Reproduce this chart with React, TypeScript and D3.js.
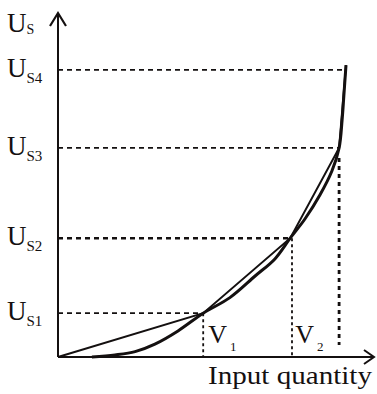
import React from "react";
import * as d3 from "d3";

// levels on the output axis (U_S1..U_S4)
const levelNames = ["S1", "S2", "S3", "S4"];
const levelValues = [14.6, 39.6, 69.7, 95.7];
// breakpoints of the piecewise-linear approximation (input, output)
const chordX = [0, 48.4, 77.4, 93.7, 96];
const chordY = [0, 14.6, 39.6, 69.7, 97.3];
// the actual (smooth) transfer curve
const curveX = [11.3, 19, 25.7, 32.3, 40, 48.4, 57.3, 65.7, 72.3, 77.4, 82.3, 87.3, 91.3, 93.7, 94.7, 95.3, 96];
const curveY = [0, 0.7, 1.8, 4.3, 8.7, 14.6, 19.8, 27, 32.7, 39.6, 46, 54, 62, 69.7, 79, 87.3, 97.3];
const segmentNames = ["1", "2"];

const W = 377;
const H = 394;
const font = "'Liberation Serif', 'Times New Roman', serif";
const ink = "#141010";

export default function App() {
  const x = d3.scaleLinear().domain([0, 100]).range([58, 358]);
  const y = d3.scaleLinear().domain([0, 100]).range([357, 57]);

  const chord = d3
    .line<number>()
    .x((d) => x(d))
    .y((_, i) => y(chordY[i]));
  const curve = d3
    .line<number>()
    .x((d) => x(d))
    .y((_, i) => y(curveY[i]))
    .curve(d3.curveCatmullRom.alpha(0.5));

  // horizontal dashed guides end where the level meets the breakpoint
  const guideEnd = [chordX[1], chordX[2], chordX[3], chordX[4]];
  const hWidths = [1.8, 2.6, 1.8, 1.8];
  const vWidths = [1.8, 1.8, 2.8];
  const vTops = [chordY[1], chordY[2], chordY[3]];
  const vXs = [chordX[1], chordX[2] + 0.6, chordX[3]];
  const vBottoms = [0, 0, 4];

  return (
    <svg
      width={W}
      height={H}
      style={{ position: "absolute", left: 0, top: 0, background: "#fff" }}
    >
      {/* guides */}
      {levelValues.map((v, i) => (
        <line
          key={"h" + i}
          x1={x(0)}
          x2={x(guideEnd[i])}
          y1={y(v)}
          y2={y(v)}
          stroke={ink}
          strokeWidth={hWidths[i]}
          strokeDasharray="5,4"
        />
      ))}
      {vXs.map((v, i) => (
        <line
          key={"v" + i}
          x1={x(v)}
          x2={x(v)}
          y1={y(vTops[i]) + (i === 2 ? 10 : 0)}
          y2={y(vBottoms[i])}
          stroke={ink}
          strokeWidth={vWidths[i]}
          strokeDasharray={i === 2 ? "4,4" : "3,3"}
        />
      ))}

      {/* axes */}
      <line x1={x(0)} x2={x(0)} y1={y(0)} y2={14} stroke={ink} strokeWidth={2} />
      <polyline points="50,26 58,13 66,26" fill="none" stroke={ink} strokeWidth={2.2} />
      <line x1={x(0)} x2={374} y1={y(0)} y2={y(0)} stroke={ink} strokeWidth={2.2} />
      <polyline points="364,350 374,357 364,364" fill="none" stroke={ink} strokeWidth={2} />

      {/* approximation and curve */}
      <path d={chord(chordX) || ""} fill="none" stroke={ink} strokeWidth={2} />
      <path d={curve(curveX) || ""} fill="none" stroke={ink} strokeWidth={3} />

      {/* y labels */}
      <text x={7} y={32} fontFamily={font} fontSize={27} fill={ink}>
        U<tspan fontSize={14} dy={2}>S</tspan>
      </text>
      {levelValues.map((v, i) => (
        <text key={"l" + i} x={7} y={y(v) + 7} fontFamily={font} fontSize={27} fill={ink}>
          U<tspan fontSize={15} dy={6}>{levelNames[i]}</tspan>
        </text>
      ))}

      {/* segment labels */}
      {segmentNames.map((s, i) => (
        <text
          key={"s" + i}
          x={x(chordX[i + 1]) + 5}
          y={343}
          fontFamily={font}
          fontSize={26}
          fill={ink}
        >
          V<tspan fontSize={13} dy={8} dx={3}>{s}</tspan>
        </text>
      ))}

      <text
        x={208}
        y={384}
        fontFamily={font}
        fontSize={25}
        fill={ink}
        textLength={164}
        lengthAdjust="spacingAndGlyphs"
      >
        Input quantity
      </text>
    </svg>
  );
}
